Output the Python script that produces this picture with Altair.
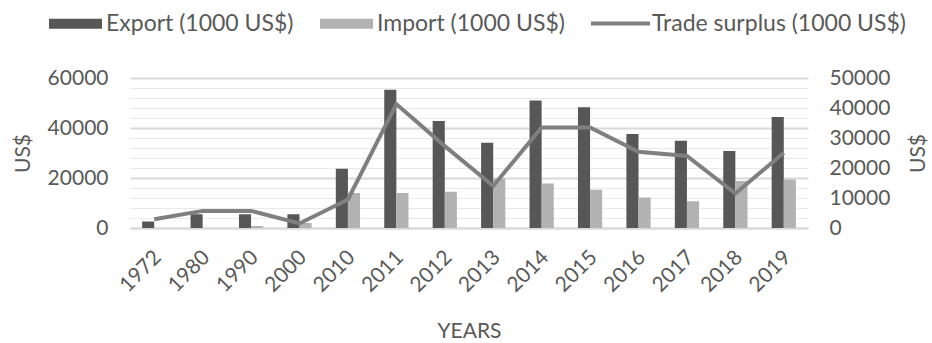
import altair as alt
import pandas as pd

years = ["1972", "1980", "1990", "2000", "2010", "2011", "2012", "2013",
         "2014", "2015", "2016", "2017", "2018", "2019"]
export_vals = [2600, 5500, 5500, 5500, 23700, 55300, 42800, 34100,
               51000, 48300, 37600, 34900, 30800, 44400]
import_vals = [0, 0, 800, 2000, 14000, 14000, 14500, 19800,
               17800, 15300, 12200, 10700, 18800, 19400]
surplus_vals = [2900, 5700, 5700, 1500, 9500, 41300, 27300, 14000,
                33500, 33500, 25400, 24000, 11500, 25100]

S_EXP = "Export (1000 US$)"
S_IMP = "Import (1000 US$)"
S_SUR = "Trade surplus (1000 US$)"

bars_df = pd.DataFrame(
    {"year": years * 2,
     "series": [S_EXP] * len(years) + [S_IMP] * len(years),
     "value": export_vals + import_vals}
)
line_df = pd.DataFrame({"year": years, "series": [S_SUR] * len(years), "value": surplus_vals})

FONT = "Lato"
TXT = "#595959"

x_enc = alt.X(
    "year:N", sort=years,
    scale=alt.Scale(paddingInner=0.5, paddingOuter=0.25),
    axis=alt.Axis(
        title="YEARS", labelAngle=-45, labelAlign="right", labelBaseline="middle",
        labelPadding=26, labelOffset=4, ticks=False, domainColor="#d9d9d9", domainWidth=2,
        labelFont=FONT, labelFontSize=21, labelColor=TXT,
        titleFont=FONT, titleFontSize=21, titleColor=TXT, titleFontWeight="normal",
        titleY=103, titleBaseline="middle",
    ),
)

bars = alt.Chart(bars_df).mark_bar().encode(
    x=x_enc,
    xOffset=alt.XOffset("series:N", sort=[S_EXP, S_IMP], scale=alt.Scale(paddingInner=0, paddingOuter=0)),
    y=alt.Y(
        "value:Q",
        scale=alt.Scale(domain=[0, 60000], nice=False),
        axis=alt.Axis(
            title="US$", values=list(range(0, 60001, 4000)), format="d",
            labelExpr="datum.value % 20000 === 0 ? datum.label : ''",
            ticks=False, domain=False, labelPadding=22,
            gridColor={"condition": {"test": "datum.value % 20000 === 0", "value": "#d9d9d9"}, "value": "#e9e9e9"},
            gridWidth={"condition": {"test": "datum.value % 20000 === 0", "value": 2}, "value": 1.2},
            labelFont=FONT, labelFontSize=21, labelColor=TXT, labelBaseline="middle",
            titleFont=FONT, titleFontSize=21, titleColor=TXT, titleFontWeight="normal",
            titleAngle=270, titleX=-107, titleY=75, titleAlign="center", titleBaseline="middle",
        ),
    ),
    color=alt.Color(
        "series:N",
        scale=alt.Scale(domain=[S_EXP, S_IMP], range=["#575757", "#b2b2b2"]),
        legend=alt.Legend(
            title=None, orient="none", direction="horizontal", legendX=-81, legendY=-81,
            symbolType="M-1,-0.19H1V0.19H-1Z", symbolSize=2809, symbolStrokeWidth=0,
            symbolOpacity=1, labelFont=FONT, labelFontSize=23, labelColor=TXT,
            labelOffset=4, columnPadding=26, labelLimit=400,
        ),
    ),
)

line = alt.Chart(line_df).mark_line(strokeWidth=4).encode(
    x=alt.X("year:N", sort=years),
    y=alt.Y(
        "value:Q",
        scale=alt.Scale(domain=[0, 50000], nice=False),
        axis=alt.Axis(
            orient="right", title="US$", values=list(range(0, 50001, 10000)), format="d",
            ticks=False, domain=False, grid=False, labelPadding=21,
            labelFont=FONT, labelFontSize=21, labelColor=TXT, labelBaseline="middle",
            titleFont=FONT, titleFontSize=21, titleColor=TXT, titleFontWeight="normal",
            titleAngle=270, titleX=110, titleY=75, titleAlign="center", titleBaseline="middle",
        ),
    ),
    color=alt.Color(
        "series:N",
        scale=alt.Scale(domain=[S_SUR], range=["#7f7f7f"]),
        legend=alt.Legend(
            title=None, orient="none", direction="horizontal", legendX=459, legendY=-86,
            symbolType="stroke", symbolSize=3481, symbolStrokeWidth=4,
            labelFont=FONT, labelFontSize=23, labelColor=TXT, labelOffset=0, labelLimit=400,
        ),
    ),
)

chart = (
    alt.layer(bars, line)
    .resolve_scale(y="independent", color="independent")
    .properties(
        width=678, height=150,
        padding={"left": 130, "top": 78, "right": 124, "bottom": 115},
        autosize=alt.AutoSizeParams(type="none"),
        background="white",
    )
    .configure_view(stroke=None)
)

chart.save("out.html", embed_options={"renderer": "svg", "actions": False})
